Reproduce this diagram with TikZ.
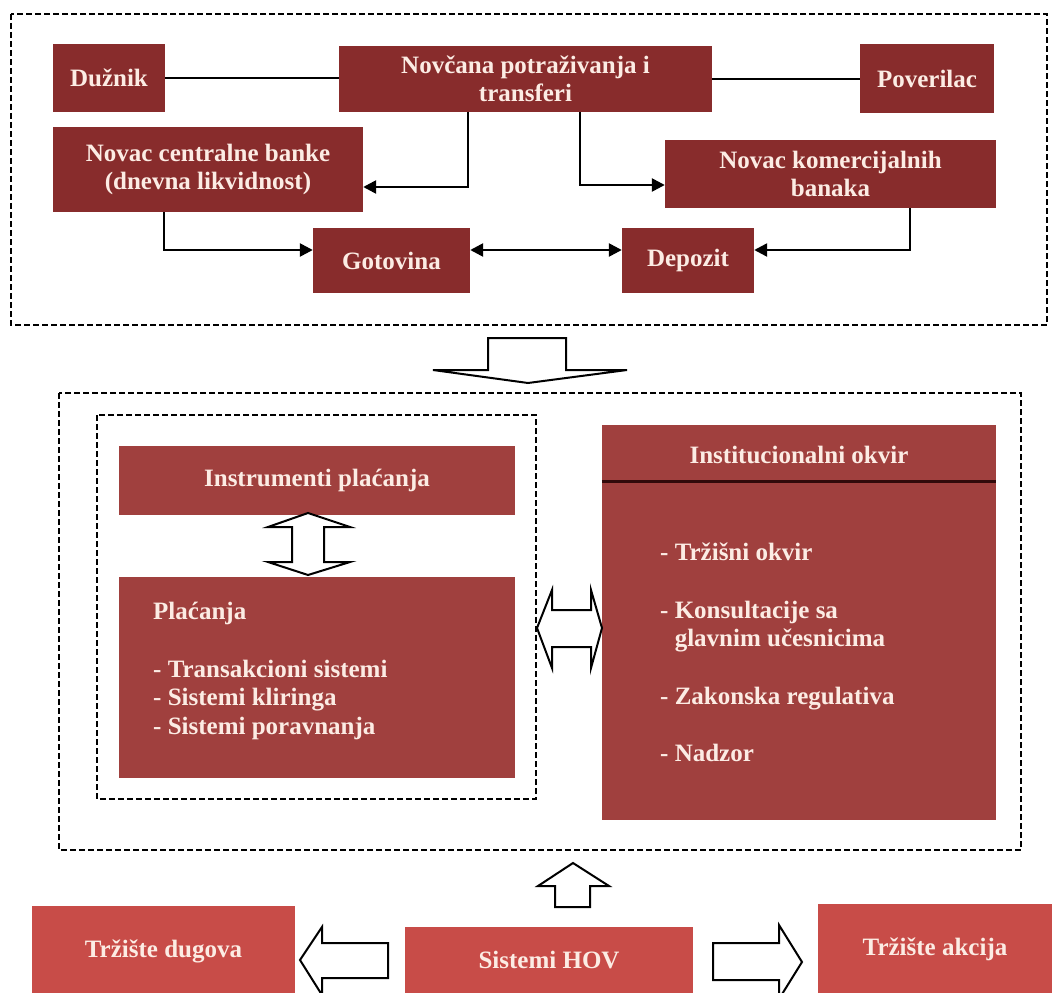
\documentclass[tikz,border=0pt]{standalone}
\usepackage{fontspec}
\setmainfont{Liberation Serif}
\usetikzlibrary{arrows.meta}
\definecolor{darkred}{RGB}{136,44,44}
\definecolor{midred}{RGB}{160,64,62}
\definecolor{lightred}{RGB}{200,76,72}
\definecolor{boxtext}{RGB}{252,236,228}
\tikzstyle{box}=[rectangle, inner sep=0pt, text=boxtext, align=center,
  font=\fontsize{25}{28.5}\selectfont\bfseries]
\tikzset{topbox/.style={box, fill=darkred}}
\tikzset{midbox/.style={box, fill=midred}}
\tikzset{lowbox/.style={box, fill=lightred}}
\tikzset{line/.style={draw=black, line width=2.5pt}}
\tikzset{frame/.style={draw=black, line width=2pt, dash pattern=on 6pt off 3pt}}
\tikzset{hollow/.style={draw=black, fill=white, line width=2pt, line join=miter}}
\tikzset{>={Triangle[length=13pt,width=13pt]}}

\begin{document}
\begin{tikzpicture}[x=1pt,y=-1pt]
    \clip (0,0) rectangle (1056,992);
    \fill[white] (0,0) rectangle (1056,992);

    % okviri
    \draw[frame] (11,14) rectangle (1047,325);
    \draw[frame] (59,393) rectangle (1021,850);
    \draw[frame] (97,415) rectangle (536,799);

    % gornji deo
    \node[topbox, minimum width=112pt, minimum height=68pt] (duznik) at (109,78) {Dužnik};
    \node[topbox, minimum width=373pt, minimum height=66pt] (novcana) at (525.5,79) {Novčana potraživanja i\\transferi};
    \node[topbox, minimum width=134pt, minimum height=69pt] (poverilac) at (927,78.5) {Poverilac};
    \node[topbox, minimum width=310pt, minimum height=85pt] (ncb) at (208,169.5) {Novac centralne banke\\(dnevna likvidnost)};
    \node[topbox, minimum width=331pt, minimum height=68pt] (nkb) at (830.5,174) {Novac komercijalnih\\banaka};
    \node[topbox, minimum width=157pt, minimum height=65pt] (gotovina) at (391.5,260.5) {Gotovina};
    \node[topbox, minimum width=132pt, minimum height=65pt] (depozit) at (688,260.5) {Depozit};

    \draw[line] (duznik.east) -- (duznik.east -| novcana.west);
    \draw[line] (novcana.east) -- (novcana.east -| poverilac.west);
    \draw[line,->] ([xshift=-57.5pt]novcana.south) |- ([yshift=-17.5pt]ncb.east);
    \draw[line,->] ([xshift=54.5pt]novcana.south) |- ([yshift=-11pt]nkb.west);
    \draw[line,->] ([xshift=-44pt]ncb.south) |- ([yshift=10.5pt]gotovina.west);
    \draw[line,->] ([xshift=79.5pt]nkb.south) |- ([yshift=10.5pt]depozit.east);
    \draw[line,<->] ([yshift=10.5pt]gotovina.east) -- ([yshift=10.5pt]depozit.west);

    \draw[hollow] (488,338) -- (566,338) -- (566,370) -- (627,370) -- (528,383)
        -- (433,370) -- (488,370) -- cycle;

    % srednji deo
    \node[midbox, minimum width=396pt, minimum height=69pt] (instrumenti) at (317,480.5) {Instrumenti plaćanja};
    \node[midbox, minimum width=396pt, minimum height=201pt] (placanja) at (317,677.5) {};
    \node[box, align=left, anchor=north west] (placanjalist) at (153,602)
        {Plaćanja\\[29pt]- Transakcioni sistemi\\- Sistemi kliringa\\- Sistemi poravnanja};

    \node[midbox, minimum width=394pt, minimum height=395pt] (inst) at (799,622.5) {};
    \node[box, anchor=base] (insttitle) at (799,463) {Institucionalni okvir};
    \draw[draw={rgb,255:red,50;green,10;blue,10}, line width=3pt]
        ([yshift=-57pt]inst.north west) -- ([yshift=-57pt]inst.north east);
    \node[box, align=left, anchor=north west] (instlist) at (660,543)
        {- Tržišni okvir\\[29pt]- Konsultacije sa\\\phantom{- }glavnim učesnicima\\[29pt]- Zakonska regulativa\\[29pt]- Nadzor};

    \draw[hollow] (308,513) -- (350,527) -- (324,527) -- (324,562) -- (350,562) -- (308,575)
        -- (268,562) -- (292,562) -- (292,527) -- (268,527) -- cycle;
    \draw[hollow] (537,628) -- (552,590) -- (552,610) -- (591,610) -- (591,590) -- (602,628)
        -- (591,668) -- (591,647) -- (552,647) -- (552,668) -- cycle;

    % donji deo
    \node[lowbox, minimum width=263pt, minimum height=90pt] (dugovi) at (163.5,951) {Tržište dugova};
    \node[lowbox, minimum width=288pt, minimum height=66pt] (hov) at (549,960) {Sistemi HOV};
    \node[lowbox, minimum width=234pt, minimum height=90pt] (akcije) at (935,949) {Tržište akcija};

    \draw[hollow] (573,863) -- (609,886) -- (590,886) -- (590,907) -- (555,907) -- (555,886)
        -- (538,886) -- cycle;
    \draw[hollow] (300,960) -- (322,927) -- (322,943) -- (388,943) -- (388,978) -- (322,978)
        -- (322,995) -- cycle;
    \draw[hollow] (802,962) -- (779,925) -- (779,943) -- (713,943) -- (713,980) -- (779,980)
        -- (779,999) -- cycle;
\end{tikzpicture}
\end{document}
